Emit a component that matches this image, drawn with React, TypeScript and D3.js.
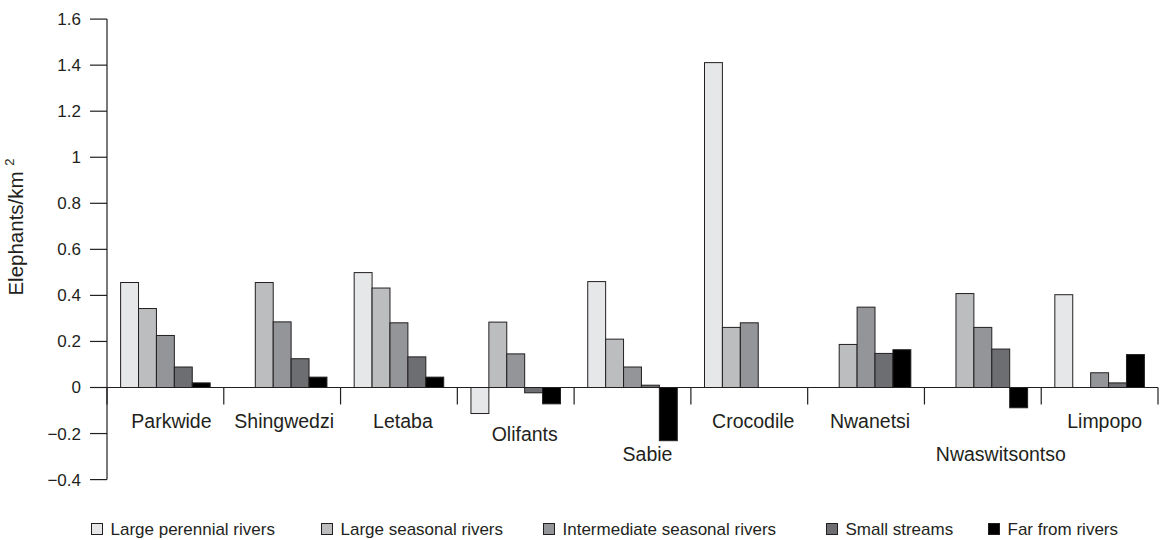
import { useEffect } from 'react';
import * as d3 from 'd3';

// Regions (x categories) and habitat classes (series)
const REGIONS = ['Parkwide', 'Shingwedzi', 'Letaba', 'Olifants', 'Sabie', 'Crocodile', 'Nwanetsi', 'Nwaswitsontso', 'Limpopo'];
const CLASSES = ['Large perennial rivers', 'Large seasonal rivers', 'Intermediate seasonal rivers', 'Small streams', 'Far from rivers'];

// values per region, one array per class (null = no bar)
const LARGE_PERENNIAL = [0.456, null, 0.499, -0.113, 0.46, 1.411, null, null, 0.403];
const LARGE_SEASONAL = [0.343, 0.456, 0.432, 0.284, 0.21, 0.261, 0.187, 0.408, null];
const INTERMEDIATE = [0.226, 0.285, 0.281, 0.146, 0.089, 0.281, 0.349, 0.261, 0.064];
const SMALL_STREAMS = [0.089, 0.125, 0.133, -0.023, 0.01, null, 0.148, 0.167, 0.02];
const FAR_FROM = [0.02, 0.045, 0.045, -0.071, -0.231, null, 0.164, -0.088, 0.143];
const SERIES = [LARGE_PERENNIAL, LARGE_SEASONAL, INTERMEDIATE, SMALL_STREAMS, FAR_FROM];

const Y_TICKS = [-0.4, -0.2, 0, 0.2, 0.4, 0.6, 0.8, 1, 1.2, 1.4, 1.6];

// layout
const W = 1163, H = 540;
const X0 = 107, X1 = 1158;
const FILLS = ['#e6e7e8', '#bcbdbf', '#939598', '#6d6e71', '#000000'];
const INK = '#231f20';
const FONT = '"Liberation Sans", Arial, Helvetica, sans-serif';
const LABEL_ROW = [0, 0, 0, 1, 2, 0, 0, 2, 0];
const LABEL_DX = [6, 2, 4, 9, 15, 4, 4, 18, 5];
const ROW_Y = [428, 441, 461];
const LEGEND_X = [91, 321, 543, 826, 988];

export default function App() {
  useEffect(() => { document.body.style.margin = '0'; }, []);

  const x0 = d3.scaleBand<string>().domain(REGIONS).range([X0, X1]).padding(0);
  const x1 = d3.scaleBand<string>().domain(CLASSES).range([0, x0.bandwidth()]).paddingInner(0).paddingOuter(0.76);
  const y = d3.scaleLinear().domain([-0.4, 1.6]).range([479.6, 19.1]);
  const fmt = (t: number) => (t === 0 ? '0' : d3.format('')(+t.toFixed(1)));

  return (
    <svg width={W} height={H} style={{ display: 'block', fontFamily: FONT }}>
      <rect width={W} height={H} fill="#fff" />

      {/* bars */}
      {SERIES.map((vals, si) =>
        vals.map((v, ri) => v == null ? null : (
          <rect
            key={`${si}-${ri}`}
            x={x0(REGIONS[ri])! + x1(CLASSES[si])!}
            y={Math.min(y(v), y(0))}
            width={x1.bandwidth()}
            height={Math.abs(y(v) - y(0))}
            fill={FILLS[si]}
            stroke={INK}
            strokeWidth={1}
          />
        ))
      )}

      {/* y axis */}
      <line x1={X0} x2={X0} y1={y(1.6)} y2={y(-0.4)} stroke={INK} strokeWidth={1.2} />
      {Y_TICKS.map(t => (
        <g key={t}>
          <line x1={X0 - 17} x2={X0} y1={y(t)} y2={y(t)} stroke={INK} strokeWidth={1.2} />
          <text x={81} y={y(t)} dy="0.35em" textAnchor="end" fontSize={17} fill={INK}>{fmt(t)}</text>
        </g>
      ))}

      {/* zero line + category separators */}
      <line x1={X0} x2={X1} y1={y(0)} y2={y(0)} stroke={INK} strokeWidth={1.2} />
      {REGIONS.map(r => (
        <line key={r} x1={x0(r)! + x0.bandwidth()} x2={x0(r)! + x0.bandwidth()} y1={y(0)} y2={y(0) + 17} stroke={INK} strokeWidth={1.2} />
      ))}
      <line x1={X0} x2={X0} y1={y(0)} y2={y(0) + 17} stroke={INK} strokeWidth={1.2} />

      {/* category labels */}
      {REGIONS.map((r, i) => (
        <text key={r} x={x0(r)! + x0.bandwidth() / 2 + LABEL_DX[i]} y={ROW_Y[LABEL_ROW[i]]} textAnchor="middle" fontSize={19.5} fill={INK}>{r}</text>
      ))}

      {/* y title */}
      <text transform="translate(23,227) rotate(-90)" textAnchor="middle" fontSize={20.5} fill={INK}>
        Elephants/km <tspan fontSize={13} dy={-9}>2</tspan>
      </text>

      {/* legend */}
      {CLASSES.map((c, i) => (
        <g key={c} transform={`translate(${LEGEND_X[i]},529)`}>
          <rect x={0.5} y={-5.5} width={11} height={11} fill={FILLS[i]} stroke={INK} strokeWidth={1} />
          <text x={19.5} y={0} dy="0.35em" fontSize={17} fill={INK}>{c}</text>
        </g>
      ))}
    </svg>
  );
}
